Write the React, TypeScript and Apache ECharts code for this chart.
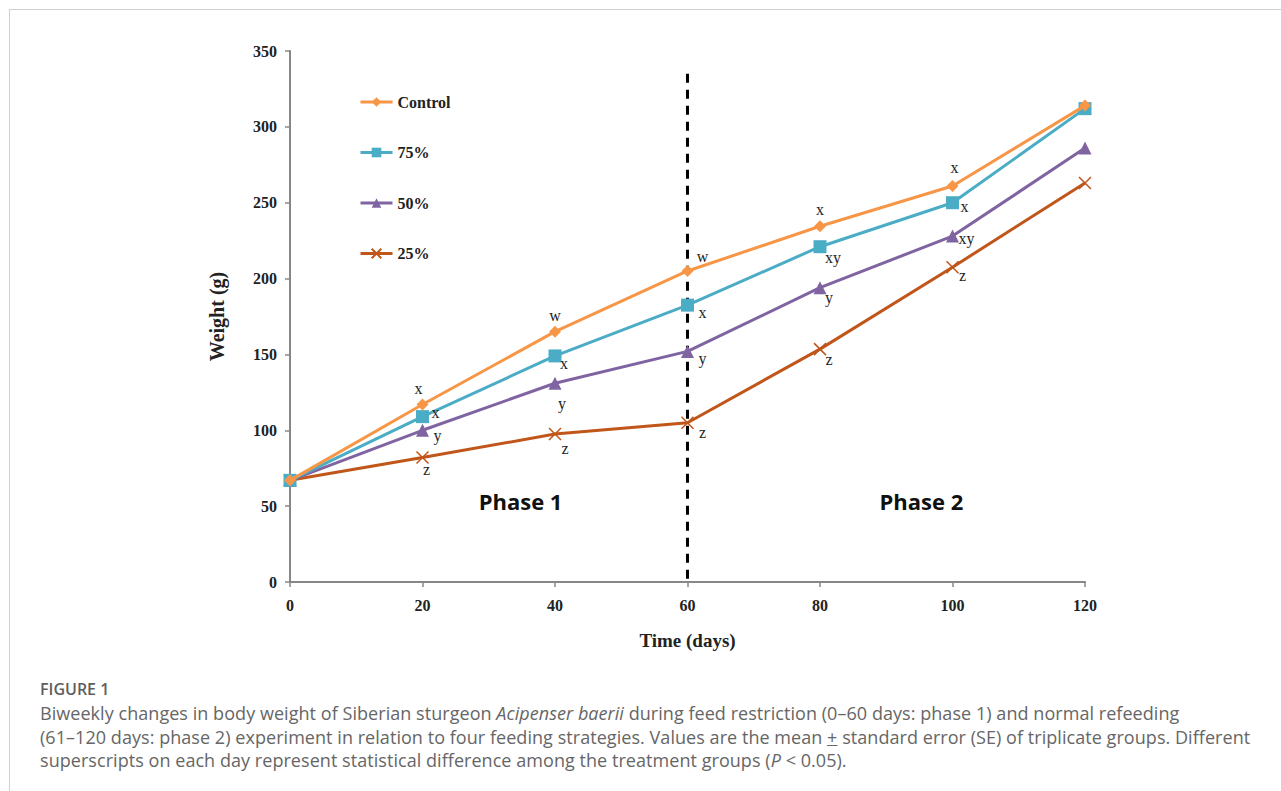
import React, { useEffect, useRef } from "react";
import * as echarts from "echarts";

const days = [0, 20, 40, 60, 80, 100, 120];
const seriesNames = ["Control", "75%", "50%", "25%"];
const controlW = [67, 117, 165, 205, 234.5, 261, 314];
const w75 = [67, 109, 149, 182.5, 221, 250, 312];
const w50 = [67, 100, 131, 152, 194, 228, 286];
const w25 = [67, 82, 97.5, 105, 153.5, 207.5, 263];
const controlSig = ["", "x", "w", "w", "x", "x", ""];
const sig75 = ["", "x", "x", "x", "xy", "x", ""];
const sig50 = ["", "y", "y", "y", "y", "xy", ""];
const sig25 = ["", "z", "z", "z", "z", "z", ""];
const yTicks = { min: 0, max: 350, interval: 50 };
const xTicks = { min: 0, max: 120, interval: 20 };
const phaseBoundary = 60;
const phaseLabels = [
  { name: "Phase 1", day: 34.8, weight: 53.5 },
  { name: "Phase 2", day: 95.3, weight: 53.5 },
];

// label offsets (style only)
const offsetsControl = [[0, 0], [-4, -16], [0, -16], [15, -14], [0, -17], [2, -19], [0, 0]];
const offsets75 = [[0, 0], [13, -4], [9, 8], [15, 7], [13, 11], [12, 4], [0, 0]];
const offsets50 = [[0, 0], [15, 5], [7, 20], [15, 7], [9, 10], [14, 2], [0, 0]];
const offsets25 = [[0, 0], [4, 12], [10, 14], [15, 10], [9, 10], [10, 8], [0, 0]];

const colors = ["#F79646", "#4BACC6", "#8064A2", "#C0561A"];
const symbols = ["diamond", "rect", "triangle", "path://M0,0L10,10M10,0L0,10"];
const symbolSizes = [12, 13, 13, 12];

const serif = "'Liberation Serif', 'Times New Roman', serif";

function buildData(vals: number[], sigs: string[], offs: number[][]) {
  return vals.map((v, i) => ({
    value: [days[i], v],
    label: sigs[i]
      ? {
          show: true,
          formatter: sigs[i],
          position: "inside",
          offset: offs[i],
          fontFamily: serif,
          fontSize: 16,
          color: "#222",
        }
      : { show: false },
  }));
}

export default function App() {
  const ref = useRef<HTMLDivElement>(null);
  useEffect(() => {
    if (!ref.current) return;
    const chart = echarts.init(ref.current, null, { renderer: "svg" });
    const allVals = [controlW, w75, w50, w25];
    const allSigs = [controlSig, sig75, sig50, sig25];
    const allOffs = [offsetsControl, offsets75, offsets50, offsets25];
    const series: any[] = seriesNames.map((name, k) => ({
      name,
      type: "line",
      data: buildData(allVals[k], allSigs[k], allOffs[k]),
      symbol: symbols[k],
      symbolSize: symbolSizes[k],
      showAllSymbol: true,
      lineStyle: { color: colors[k], width: 3 },
      itemStyle: {
        color: colors[k],
        borderColor: colors[k],
        borderWidth: k === 3 ? 1.5 : 0,
      },
      emphasis: { disabled: true },
      z: 10 - k,
    }));
    series[0].markLine = {
      silent: true,
      symbol: "none",
      label: { show: false },
      lineStyle: { color: "#000", width: 3, type: [9, 7] },
      data: [[{ coord: [phaseBoundary, 335] }, { coord: [phaseBoundary, 0] }]],
    };
    series[0].markPoint = {
      silent: true,
      symbol: "circle",
      symbolSize: 0,
      data: phaseLabels.map((p) => ({
        coord: [p.day, p.weight],
        label: {
          show: true,
          formatter: p.name,
          position: "inside",
          fontFamily: "'Open Sans', sans-serif",
          fontWeight: 700,
          fontSize: 22,
          color: "#111",
        },
      })),
    };
    chart.setOption({
      animation: false,
      grid: { left: 290, top: 51, width: 795, height: 531 },
      legend: {
        orient: "vertical",
        left: 359,
        top: 94,
        padding: 0,
        itemWidth: 32,
        itemHeight: 12,
        itemGap: 34.5,
        data: seriesNames,
        lineStyle: { width: 3 },
        textStyle: { fontFamily: serif, fontWeight: "bold", fontSize: 16, color: "#222" },
      },
      xAxis: {
        type: "value",
        ...xTicks,
        name: "Time (days)",
        nameLocation: "middle",
        nameGap: 49,
        nameTextStyle: { fontFamily: serif, fontWeight: "bold", fontSize: 19, color: "#222" },
        axisLine: { show: true, lineStyle: { color: "#878787", width: 2 } },
        axisTick: { show: true, length: 5, lineStyle: { color: "#878787", width: 1.5 } },
        axisLabel: { margin: 15, fontFamily: serif, fontWeight: "bold", fontSize: 16, color: "#222" },
        splitLine: { show: false },
      },
      yAxis: {
        type: "value",
        ...yTicks,
        name: "Weight (g)",
        nameLocation: "middle",
        nameGap: 63,
        nameRotate: 90,
        nameTextStyle: { fontFamily: serif, fontWeight: "bold", fontSize: 20, color: "#222" },
        axisLine: { show: true, lineStyle: { color: "#878787", width: 2 } },
        axisTick: { show: true, length: 5, lineStyle: { color: "#878787", width: 1.5 } },
        axisLabel: { margin: 13, fontFamily: serif, fontWeight: "bold", fontSize: 16, color: "#222" },
        splitLine: { show: false },
      },
      series,
    });
    return () => chart.dispose();
  }, []);

  return (
    <div
      style={{
        position: "absolute",
        left: 0,
        top: 0,
        width: 1281,
        height: 791,
        overflow: "hidden",
        background: "#fff",
      }}
    >
      <div
        style={{
          position: "absolute",
          left: 9,
          top: 9,
          width: 1400,
          height: 900,
          border: "1.5px solid #d0d0d0",
        }}
      />
      <div ref={ref} style={{ position: "absolute", left: 0, top: 0, width: 1281, height: 665 }} />
      <div
        style={{
          position: "absolute",
          left: 40,
          top: 676,
          fontFamily: "'Open Sans', Lato, sans-serif",
          color: "#666",
          whiteSpace: "nowrap",
        }}
      >
        <div style={{ fontSize: 16, fontWeight: 600, color: "#5e5e5e", lineHeight: "26px" }}>FIGURE 1</div>
        <div style={{ fontSize: 18, lineHeight: "23.5px", letterSpacing: "0.05px" }}>
          Biweekly changes in body weight of Siberian sturgeon <i>Acipenser baerii</i> during feed restriction
          (0–60 days: phase 1) and normal refeeding
          <br />
          (61–120 days: phase 2) experiment in relation to four feeding strategies. Values are the mean{" "}
          <u>+</u> standard error (SE) of triplicate groups. Different
          <br />
          superscripts on each day represent statistical difference among the treatment groups (<i>P</i> &lt; 0.05).
        </div>
      </div>
    </div>
  );
}
